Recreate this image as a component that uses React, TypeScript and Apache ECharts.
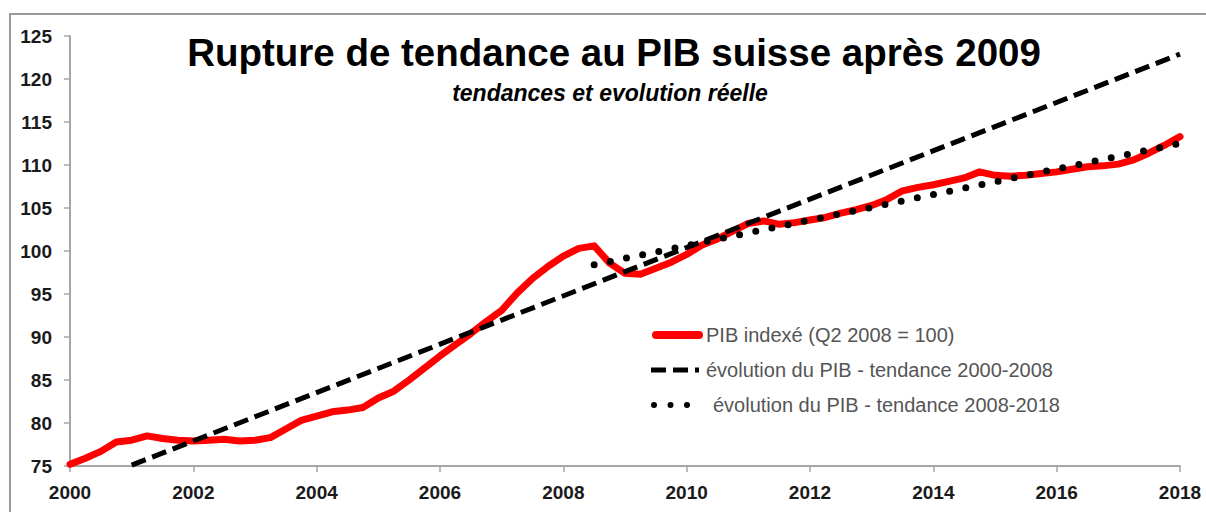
import React, { useEffect, useRef } from "react";
import * as echarts from "echarts";

// ---- Data ----
const pibStartYear = 2000;
const pibStep = 0.25; // quarterly
const pibValues = [
  75.2, 75.9, 76.7, 77.8, // 2000
  78.0, 78.5, 78.2, 78.0, // 2001
  77.9, 78.0, 78.1, 77.9, // 2002
  78.0, 78.3, 79.3, 80.3, // 2003
  80.8, 81.3, 81.5, 81.8, // 2004
  82.9, 83.7, 85.0, 86.4, // 2005
  87.8, 89.1, 90.4, 91.8, // 2006
  93.1, 95.1, 96.8, 98.2, // 2007
  99.4, 100.3, 100.6, 98.6, // 2008
  97.4, 97.3, 98.0, 98.7, // 2009
  99.6, 100.7, 101.4, 102.3, // 2010
  103.2, 103.5, 103.1, 103.3, // 2011
  103.6, 103.9, 104.4, 104.8, // 2012
  105.3, 106.0, 107.0, 107.4, // 2013
  107.7, 108.1, 108.5, 109.2, // 2014
  108.8, 108.7, 108.8, 109.0, // 2015
  109.2, 109.5, 109.8, 109.9, // 2016
  110.1, 110.6, 111.4, 112.3, // 2017
  113.3, // 2018
];
const trend2000Years = [2001.0, 2018.0];
const trend2000Values = [75.1, 122.9];
const trend2008Years = [2008.5, 2018.0];
const trend2008Values = [98.4, 112.5];

const xMin = 2000;
const xMax = 2018;
const xInterval = 2;
const yMin = 75;
const yMax = 125;
const yInterval = 5;

const titleText = "Rupture de tendance au PIB suisse après 2009";
const subtitleText = "tendances et evolution réelle";
const seriesNames = [
  "PIB indexé (Q2 2008 = 100)",
  "évolution du PIB - tendance 2000-2008",
  "évolution du PIB - tendance 2008-2018",
];

const FONT = "'Liberation Sans', Arial, Helvetica, sans-serif";

export default function App() {
  const ref = useRef<HTMLDivElement>(null);

  useEffect(() => {
    if (!ref.current) return;
    const chart = echarts.init(ref.current, undefined, { renderer: "svg" });

    const pibData = pibValues.map((v, i) => [pibStartYear + i * pibStep, v]);
    const tA = trend2000Years.map((x, i) => [x, trend2000Values[i]]);
    const tB = trend2008Years.map((x, i) => [x, trend2008Values[i]]);

    const legendRows = [335, 370, 405];

    chart.setOption({
      animation: false,
      backgroundColor: "#ffffff",
      grid: { left: 70, right: 26, top: 36, bottom: 46, containLabel: false },
      xAxis: {
        type: "value",
        min: xMin,
        max: xMax,
        interval: xInterval,
        axisLine: { show: true, lineStyle: { color: "#a6a6a6", width: 2 } },
        axisTick: { show: true, length: 6, lineStyle: { color: "#a6a6a6", width: 1.5 } },
        splitLine: { show: false },
        axisLabel: {
          margin: 17,
          color: "#1a1a1a",
          fontWeight: "bold",
          fontSize: 19,
          fontFamily: FONT,
          formatter: (v: number) => String(v),
        },
      },
      yAxis: {
        type: "value",
        min: yMin,
        max: yMax,
        interval: yInterval,
        axisLine: { show: true, lineStyle: { color: "#a6a6a6", width: 2 } },
        axisTick: { show: true, length: 6, lineStyle: { color: "#a6a6a6", width: 1.5 } },
        splitLine: { show: false },
        axisLabel: {
          margin: 18,
          color: "#1a1a1a",
          fontWeight: "bold",
          fontSize: 19,
          fontFamily: FONT,
        },
      },
      series: [
        {
          name: seriesNames[0],
          type: "line",
          data: pibData,
          showSymbol: false,
          symbol: "none",
          lineStyle: { color: "#ff0000", width: 7, join: "round", cap: "round" },
          z: 2,
        },
        {
          name: seriesNames[1],
          type: "line",
          data: tA,
          showSymbol: false,
          symbol: "none",
          lineStyle: { color: "#000000", width: 5, type: [15, 7] },
          z: 3,
        },
        {
          name: seriesNames[2],
          type: "line",
          data: tB,
          showSymbol: false,
          symbol: "none",
          lineStyle: { color: "#000000", width: 7, type: [0, 16.5], cap: "round" },
          z: 4,
        },
      ],
      graphic: [
        {
          type: "rect",
          silent: true,
          z: -10,
          shape: { x: 10, y: 14, width: 1300, height: 600 },
          style: { fill: "none", stroke: "#9a9a9a", lineWidth: 2 },
        },
        {
          type: "text",
          x: 614,
          y: 52,
          style: {
            text: titleText,
            fill: "#000000",
            font: `bold 38.5px ${FONT}`,
            textAlign: "center",
            textVerticalAlign: "middle",
          },
        },
        {
          type: "text",
          x: 610,
          y: 93,
          style: {
            text: subtitleText,
            fill: "#000000",
            font: `italic bold 23px ${FONT}`,
            textAlign: "center",
            textVerticalAlign: "middle",
          },
        },
        {
          type: "line",
          shape: { x1: 656, y1: legendRows[0], x2: 699, y2: legendRows[0] },
          style: { stroke: "#ff0000", lineWidth: 8, lineCap: "round" },
        },
        {
          type: "line",
          shape: { x1: 651, y1: legendRows[1], x2: 699, y2: legendRows[1] },
          style: { stroke: "#000000", lineWidth: 5, lineDash: [15, 7] },
        },
        {
          type: "line",
          shape: { x1: 654, y1: legendRows[2], x2: 688, y2: legendRows[2] },
          style: { stroke: "#000000", lineWidth: 6, lineDash: [0, 16.5], lineCap: "round" },
        },
        {
          type: "text",
          x: 706,
          y: legendRows[0],
          style: {
            text: seriesNames[0],
            fill: "#555555",
            font: `20px ${FONT}`,
            textAlign: "left",
            textVerticalAlign: "middle",
          },
        },
        {
          type: "text",
          x: 706,
          y: legendRows[1],
          style: {
            text: seriesNames[1],
            fill: "#555555",
            font: `20px ${FONT}`,
            textAlign: "left",
            textVerticalAlign: "middle",
          },
        },
        {
          type: "text",
          x: 713,
          y: legendRows[2],
          style: {
            text: seriesNames[2],
            fill: "#555555",
            font: `20px ${FONT}`,
            textAlign: "left",
            textVerticalAlign: "middle",
          },
        },
      ],
    });

    return () => {
      chart.dispose();
    };
  }, []);

  return (
    <div
      ref={ref}
      style={{ position: "fixed", left: 0, top: 0, width: 1206, height: 512, background: "#fff" }}
    />
  );
}
